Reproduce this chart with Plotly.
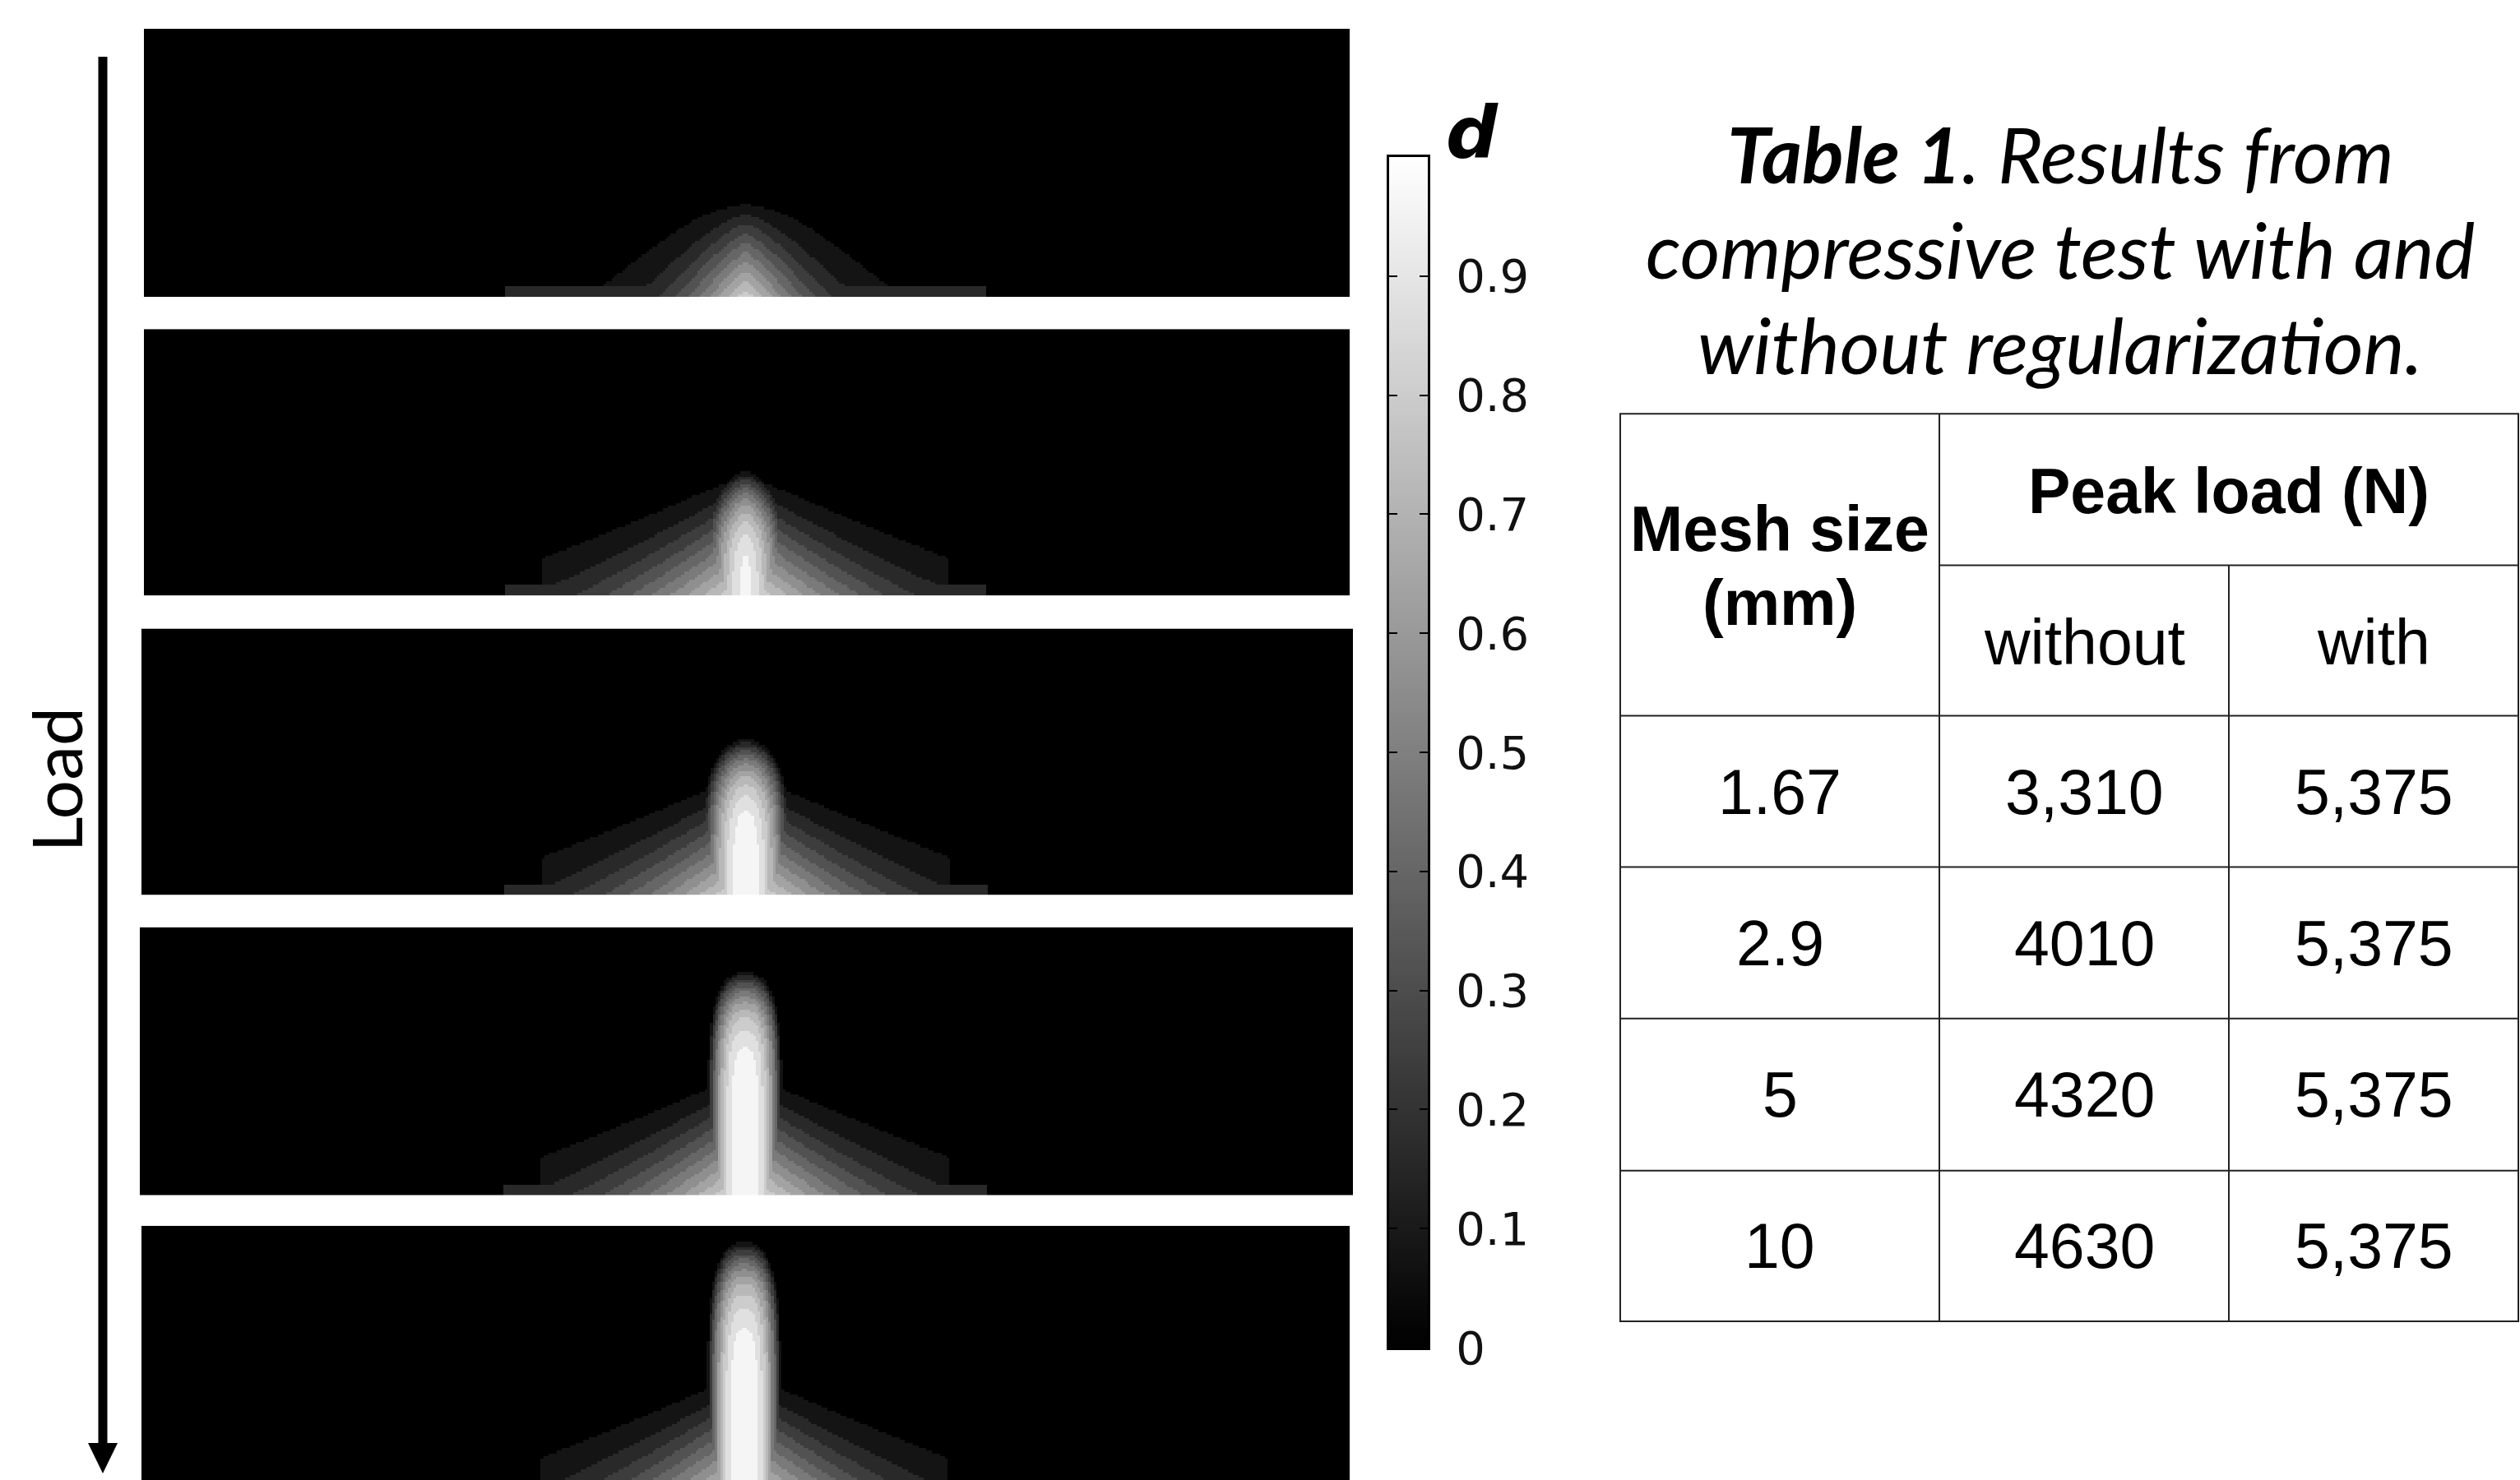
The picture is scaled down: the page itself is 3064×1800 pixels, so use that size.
import numpy as np
import plotly.graph_objects as go

# figure size; the photograph is squeezed vertically by ~1800/1834, so the
# figure is made 1834 tall and positions are given in photographed pixels
FW, FH = 3064, 1834
SH = 1800

# ---------------- data ----------------
# damage field, one panel per load step; geometry in panel units (x 0..450, y 0..100)
crack_x = 224.5
skirt_peak = [0.80, 0.86, 0.88, 0.88, 0.88]
skirt_height = [36, 46, 46, 46, 46]
skirt_width = [25, 47, 47, 47, 47]
skirt_narrowing = [66, 54, 54, 54, 54]
skirt_shape = [1.3, 1.3, 1.3, 1.3, 1.3]
core_peak = [0.0, 0.95, 1.0, 1.0, 1.0]
core_tip = [1, 47, 59, 84, 95]
core_halfwidth = [1, 18, 17, 14, 14]
core_side_exp = [2.0, 1.6, 2.0, 2.5, 2.5]
core_top_exp = [2, 3, 4, 6, 6]
plate_halfwidth = 76
shelf_halfwidth = 90
shelf_height = 3.5
shelf_value = 0.15
level_step = 0.08

cbar_ticks = [0, 0.1, 0.2, 0.3, 0.4, 0.5, 0.6, 0.7, 0.8, 0.9]
cbar_ticktext = ["0", "0.1", "0.2", "0.3", "0.4", "0.5", "0.6", "0.7", "0.8", "0.9"]

mesh_size = ["1.67", "2.9", "5", "10"]
peak_without = ["3,310", "4010", "4320", "4630"]
peak_with = ["5,375", "5,375", "5,375", "5,375"]
header_mesh = ["Mesh size", "(mm)"]
header_peak = "Peak load (N)"
header_sub = ["without", "with"]
title_lines = ["<b>Table 1</b>. Results from", "compressive test with and", "without regularization."]


# ---------------- layout helpers (photographed pixels -> paper) ----------------
def px(xp):
    return xp / FW


def py(yp):
    return 1 - yp / SH


panel_boxes = [  # left, right, top, bottom (photographed px)
    (175, 1641, 35, 361),
    (175, 1641, 400, 724),
    (172, 1645, 764, 1088),
    (170, 1645, 1127, 1453),
    (172, 1641, 1490, 1817),
]
unit_px = 3.26

xs = np.arange(0, 451)
ys = np.arange(0, 101)
X, Y = np.meshgrid(xs, ys)


def field(i):
    dx = np.abs(X - crack_x)
    g = np.clip(1 - Y / skirt_height[i], 0, None)
    sig = skirt_width[i] * np.clip(1 - Y / skirt_narrowing[i], 0.05, None)
    skirt = skirt_peak[i] * g * np.exp(-(dx / sig) ** skirt_shape[i])
    skirt[dx > plate_halfwidth] = 0
    core = core_peak[i] * np.clip(
        1 - (dx / core_halfwidth[i]) ** core_side_exp[i] - (Y / core_tip[i]) ** core_top_exp[i], 0, None)
    shelf = np.where((dx < shelf_halfwidth) & (Y < shelf_height), shelf_value, 0.0)
    d = np.maximum(np.maximum(skirt, core), shelf)
    d = np.minimum(np.round(d / level_step) * level_step, 1.0)
    return np.round(d, 3)


fig = go.Figure()
gray = [[0, "#000000"], [1, "#ffffff"]]

layout = dict(
    width=FW, height=FH, margin=dict(l=0, r=0, t=0, b=0),
    paper_bgcolor="white", plot_bgcolor="white", showlegend=False,
)

for i, (l, r, t, b) in enumerate(panel_boxes):
    k = i + 1
    fig.add_trace(go.Heatmap(
        z=field(i), x=xs, y=ys, colorscale=gray, zmin=0, zmax=1,
        showscale=False, zsmooth=False, xaxis=f"x{k}", yaxis=f"y{k}",
        hoverinfo="skip"))
    y_bot = py(b)
    yr = [-0.5, 100.5]
    if y_bot < 0:
        shown = (SH - t) / unit_px
        yr = [100.5 - shown, 100.5]
        y_bot = 0
    layout[f"xaxis{k}" if k > 1 else "xaxis"] = dict(
        domain=[px(l), px(r)], range=[-0.5, 450.5], visible=False, anchor=f"y{k}")
    layout[f"yaxis{k}" if k > 1 else "yaxis"] = dict(
        domain=[y_bot, py(t)], range=yr, visible=False, anchor=f"x{k}")

# colour bar as its own small heatmap axis
cb_vals = np.round(np.linspace(0, 1, 301), 4)
fig.add_trace(go.Heatmap(
    z=[[v] for v in cb_vals], x=[0], y=cb_vals, colorscale=gray, zmin=0, zmax=1,
    showscale=False, zsmooth=False, xaxis="x6", yaxis="y6", hoverinfo="skip"))
layout["xaxis6"] = dict(domain=[px(1689), px(1736)], range=[-0.5, 0.5], anchor="y6",
                        showticklabels=False, ticks="", showgrid=False, zeroline=False,
                        showline=True, linecolor="black", linewidth=3, mirror=True)
layout["yaxis6"] = dict(domain=[py(1638), py(191)], range=[0, 1], anchor="x6", side="right",
                        tickvals=cbar_ticks, ticktext=cbar_ticktext, ticks="inside",
                        ticklen=10, tickwidth=2, tickcolor="black", mirror="ticks",
                        showline=True, linecolor="black", linewidth=3, showgrid=False,
                        zeroline=False, ticklabelstandoff=20,
                        tickfont=dict(family="DejaVu Sans", size=56, color="#111"))

shapes = []
annotations = []


def text(x, y, t, font, angle=0):
    annotations.append(dict(x=px(x), y=py(y), xref="paper", yref="paper", text=t,
                            xanchor="center", yanchor="middle", textangle=angle,
                            showarrow=False, font=font))


# colour bar title
text(1790, 160, "<b><i>d</i></b>", dict(family="DejaVu Sans", size=88, color="black"))

# Load arrow
shapes.append(dict(type="line", xref="paper", yref="paper", x0=px(125), x1=px(125),
                   y0=py(69), y1=py(1760), line=dict(color="black", width=11)))
shapes.append(dict(type="path", xref="paper", yref="paper",
                   path=f"M {px(107)} {py(1754)} L {px(143)} {py(1754)} L {px(125)} {py(1791)} Z",
                   fillcolor="black", line=dict(width=0)))
text(68, 948, "Load", dict(family="Lato", size=84, color="black"), angle=-90)

# title
title_y = [186, 302, 418]
for txt, ty in zip(title_lines, title_y):
    text(2505, ty, f"<i>{txt}</i>", dict(family="Lato", size=94, color="black"))

# table grid
col_edges = [1970, 2358, 2710, 3062]
row_edges = [503, 687, 870, 1054, 1238, 1423, 1606]
lc = dict(color="#222", width=2)
shapes.append(dict(type="rect", xref="paper", yref="paper", x0=px(col_edges[0]), x1=px(col_edges[-1]),
                   y0=py(row_edges[0]), y1=py(row_edges[-1]), line=lc))
for cx in col_edges[1:-1]:
    y_start = row_edges[1] if cx == col_edges[2] else row_edges[0]
    shapes.append(dict(type="line", xref="paper", yref="paper", x0=px(cx), x1=px(cx),
                       y0=py(y_start), y1=py(row_edges[-1]), line=lc))
shapes.append(dict(type="line", xref="paper", yref="paper", x0=px(col_edges[1]), x1=px(col_edges[-1]),
                   y0=py(row_edges[1]), y1=py(row_edges[1]), line=lc))
for ry in row_edges[2:-1]:
    shapes.append(dict(type="line", xref="paper", yref="paper", x0=px(col_edges[0]), x1=px(col_edges[-1]),
                       y0=py(ry), y1=py(ry), line=lc))

col_centers = [(col_edges[j] + col_edges[j + 1]) / 2 for j in range(3)]
tf = dict(family="Liberation Sans", size=77, color="black")


def cell(t, xc, yc, bold=False):
    text(xc, yc, f"<b>{t}</b>" if bold else t, tf)


cell(header_mesh[0], col_centers[0], 643, True)
cell(header_mesh[1], col_centers[0], 733, True)
cell(header_peak, (col_edges[1] + col_edges[3]) / 2, 597, True)
cell(header_sub[0], col_centers[1], 781)
cell(header_sub[1], col_centers[2], 781)
for j in range(4):
    yc = (row_edges[j + 2] + row_edges[j + 3]) / 2
    cell(mesh_size[j], col_centers[0], yc)
    cell(peak_without[j], col_centers[1], yc)
    cell(peak_with[j], col_centers[2], yc)

layout["shapes"] = shapes
layout["annotations"] = annotations
fig.update_layout(**layout)
fig.write_html("out.html")
